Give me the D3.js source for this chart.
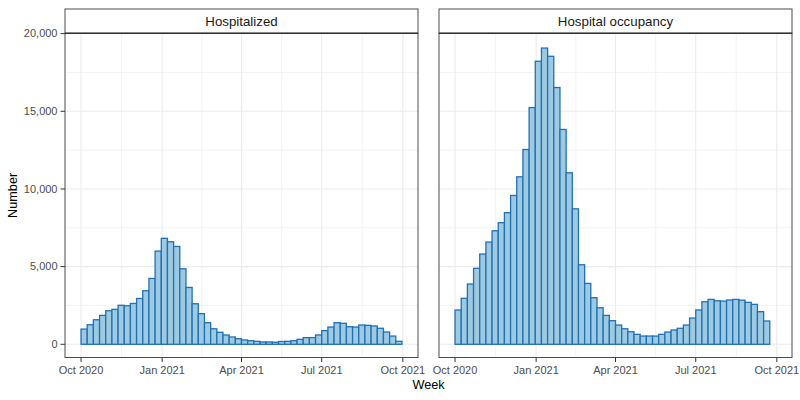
<!DOCTYPE html>
<html>
<head>
<meta charset="utf-8">
<script src="https://cdn.jsdelivr.net/npm/d3@7"></script>
<style>
  html, body { margin: 0; padding: 0; background: #ffffff; }
  svg { display: block; font-family: "Liberation Sans", Arial, Helvetica, sans-serif; }
</style>
</head>
<body>
<svg id="chart" width="800" height="400"></svg>
<script>
// ---- data ----
const panelTitles = ["Hospitalized", "Hospital occupancy"];
const firstWeek = "2020-10-01";
const hospitalized = [980, 1260, 1580, 1860, 2160, 2250, 2510, 2480, 2630, 2950, 3450, 4240,
  6000, 6820, 6600, 6300, 4860, 3660, 2610, 1970, 1390, 1000, 770, 600, 470, 360, 280, 230,
  190, 150, 150, 130, 180, 190, 230, 320, 430, 430, 600, 880, 1110, 1390, 1350, 1130, 1110,
  1240, 1220, 1180, 1030, 790, 530, 190];
const occupancy = [2206, 2960, 3880, 4890, 5810, 6580, 7310, 7830, 8470, 9580, 10780, 12540,
  15240, 18220, 19070, 18540, 16530, 13830, 11040, 8720, 5120, 3920, 3000, 2350, 1860, 1520,
  1240, 1000, 810, 640, 530, 530, 530, 640, 790, 920, 1030, 1240, 1690, 2210, 2740, 2890,
  2800, 2780, 2850, 2890, 2840, 2700, 2570, 2100, 1500];
const yTicks = [0, 5000, 10000, 15000, 20000];
const yMinor = [2500, 7500, 12500, 17500];
const xTickDates = ["2020-10-01", "2021-01-01", "2021-04-01", "2021-07-01", "2021-10-01"];
const xAxisTitle = "Week";
const yAxisTitle = "Number";

// ---- layout ----
const svg = d3.select("#chart");
const panelTop = 33.3, panelBottom = 357.5, stripTop = 9;
const panelsX = [[65, 418], [439, 792]];
const fillCol = "#9ecae1", strokeCol = "#2171b5";

const day = 86400000;
const start = new Date(firstWeek + "T00:00:00Z");
const series = [hospitalized, occupancy];
const maxWeeks = d3.max(series, s => s.length);
const end = new Date(start.getTime() + maxWeeks * 7 * day);
const span = end - start;
const xDomain = [new Date(start - span * 0.05), new Date(+end + span * 0.05)];

const y = d3.scaleLinear().domain([-850, 20020]).range([panelBottom, panelTop]);
const fmt = d3.format(",");
const xTicks = xTickDates.map(s => new Date(s + "T00:00:00Z"));
const xMinor = d3.pairs(xTicks).map(([a, b]) => new Date((+a + +b) / 2));

series.forEach((vals, p) => {
  const [x0, x1] = panelsX[p];
  const x = d3.scaleUtc().domain(xDomain).range([x0, x1]);
  const g = svg.append("g");

  // background
  g.append("rect").attr("x", x0).attr("y", panelTop).attr("width", x1 - x0)
    .attr("height", panelBottom - panelTop).attr("fill", "#fff");

  // minor grid
  g.selectAll(".ymin").data(yMinor).join("line")
    .attr("x1", x0).attr("x2", x1).attr("y1", d => y(d)).attr("y2", d => y(d))
    .attr("stroke", "#ebebeb").attr("stroke-width", 0.6);
  g.selectAll(".xmin").data(xMinor).join("line")
    .attr("x1", d => x(d)).attr("x2", d => x(d)).attr("y1", panelTop).attr("y2", panelBottom)
    .attr("stroke", "#ebebeb").attr("stroke-width", 0.6);
  // major grid
  g.selectAll(".ymaj").data(yTicks).join("line")
    .attr("x1", x0).attr("x2", x1).attr("y1", d => y(d)).attr("y2", d => y(d))
    .attr("stroke", "#ebebeb").attr("stroke-width", 1.1);
  g.selectAll(".xmaj").data(xTicks).join("line")
    .attr("x1", d => x(d)).attr("x2", d => x(d)).attr("y1", panelTop).attr("y2", panelBottom)
    .attr("stroke", "#ebebeb").attr("stroke-width", 1.1);

  // bars
  g.selectAll(".bar").data(vals).join("rect")
    .attr("x", (d, i) => x(new Date(+start + i * 7 * day)))
    .attr("width", (d, i) => x(new Date(+start + (i + 1) * 7 * day)) - x(new Date(+start + i * 7 * day)))
    .attr("y", d => y(d))
    .attr("height", d => y(0) - y(d))
    .attr("fill", fillCol).attr("stroke", strokeCol).attr("stroke-width", 1.3);

  // panel border
  g.append("rect").attr("x", x0).attr("y", panelTop).attr("width", x1 - x0)
    .attr("height", panelBottom - panelTop).attr("fill", "none")
    .attr("stroke", "#4d4d4d").attr("stroke-width", 1);

  // strip
  g.append("rect").attr("x", x0).attr("y", stripTop).attr("width", x1 - x0)
    .attr("height", panelTop - stripTop).attr("fill", "#fff")
    .attr("stroke", "#4d4d4d").attr("stroke-width", 1);
  g.append("line").attr("x1", x0).attr("x2", x1).attr("y1", panelTop).attr("y2", panelTop)
    .attr("stroke", "#333").attr("stroke-width", 1.6);
  g.append("text").attr("x", (x0 + x1) / 2).attr("y", (stripTop + panelTop) / 2 + 4.7)
    .attr("text-anchor", "middle").attr("font-size", 13.3).attr("fill", "#1a1a1a")
    .text(panelTitles[p]);

  // x axis
  const xa = g.append("g");
  xa.selectAll("line").data(xTicks).join("line")
    .attr("x1", d => x(d)).attr("x2", d => x(d))
    .attr("y1", panelBottom).attr("y2", panelBottom + 4.5)
    .attr("stroke", "#333").attr("stroke-width", 1);
  xa.selectAll("text").data(xTicks).join("text")
    .attr("x", d => x(d)).attr("y", 374)
    .attr("text-anchor", "middle").attr("font-size", 11).attr("fill", "#4d4d4d")
    .text(d => d3.utcFormat("%b %Y")(d));

  // y axis (left panel only)
  if (p === 0) {
    const ya = g.append("g");
    ya.selectAll("line").data(yTicks).join("line")
      .attr("x1", x0 - 4.5).attr("x2", x0)
      .attr("y1", d => y(d)).attr("y2", d => y(d))
      .attr("stroke", "#333").attr("stroke-width", 1);
    ya.selectAll("text").data(yTicks).join("text")
      .attr("x", x0 - 7.5).attr("y", d => y(d) + 3.8)
      .attr("text-anchor", "end").attr("font-size", 11).attr("fill", "#4d4d4d")
      .text(d => fmt(d));
  }
});

// axis titles
svg.append("text").attr("x", (panelsX[0][0] + panelsX[1][1]) / 2).attr("y", 389)
  .attr("text-anchor", "middle").attr("font-size", 12.7).attr("fill", "#000").text(xAxisTitle);
svg.append("text").attr("transform", `translate(17.3, ${(panelTop + panelBottom) / 2}) rotate(-90)`)
  .attr("text-anchor", "middle").attr("font-size", 12.7).attr("fill", "#000").text(yAxisTitle);
</script>
</body>
</html>
